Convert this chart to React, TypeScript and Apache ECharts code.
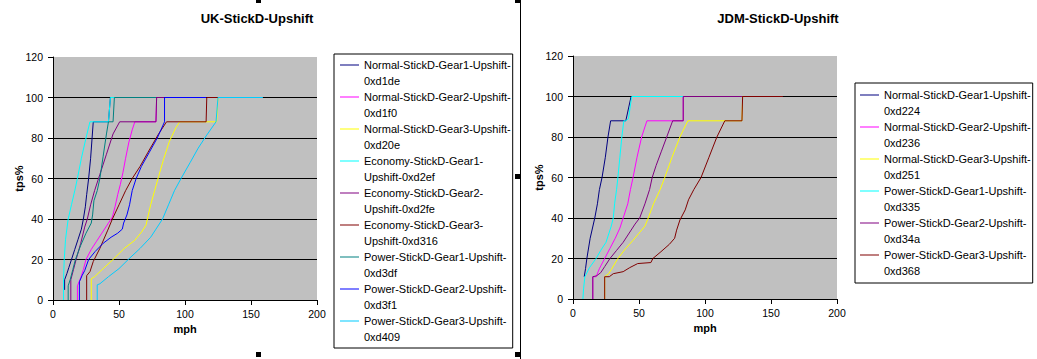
import React, { useEffect, useRef } from 'react';
import * as echarts from 'echarts';

const FONT = '"Liberation Sans", Arial, Helvetica, sans-serif';

// ---- axis ticks ----
const xMin = 0, xMax = 200, xStep = 50;
const yMin = 0, yMax = 120, yStep = 20;

// ---- UK-StickD-Upshift series names ----
const ukNames = [
  'Normal-StickD-Gear1-Upshift-0xd1de',
  'Normal-StickD-Gear2-Upshift-0xd1f0',
  'Normal-StickD-Gear3-Upshift-0xd20e',
  'Economy-StickD-Gear1-Upshift-0xd2ef',
  'Economy-StickD-Gear2-Upshift-0xd2fe',
  'Economy-StickD-Gear3-Upshift-0xd316',
  'Power-StickD-Gear1-Upshift-0xd3df',
  'Power-StickD-Gear2-Upshift-0xd3f1',
  'Power-StickD-Gear3-Upshift-0xd409',
];
const ukColors = ['#000080', '#FF00FF', '#FFFF00', '#00FFFF', '#800080', '#800000', '#008080', '#0000FF', '#00CCFF'];

// [mph, tps%]
const ukNormalG1 = [[8.8,5],[8.8,10],[10.5,13],[12,16],[14,20],[16.5,25],[19,30],[21.5,35],[23,40],[24.5,46],[25.5,52],[27,60],[28.5,70],[29.5,79],[30.5,88],[42,88],[43.5,100]];
const ukNormalG2 = [[18.5,0],[18.5,7],[21,11],[23,15],[25,20],[29,25],[33,29],[37,33],[41,37],[45,41],[47,46],[49,52],[51,57],[53,63],[55,70],[57.5,78],[60,84],[62,88],[78,88],[78.5,100]];
const ukNormalG3 = [[29,0],[29,10.5],[31.5,11.5],[38,15.5],[45.5,20],[54,25.5],[62,29.5],[67,33.5],[70.5,37],[71.5,40],[74,47],[77,54],[80,61],[84,70],[88,78],[93,85],[96,88],[124,88],[125,100]];
const ukEconomyG1 = [[8,0],[8,10],[8.5,20],[9.5,30],[11.5,40],[14,47],[16.5,54],[18.5,60],[21.5,70],[25,80],[28,88],[42,88],[43.5,100],[78,100]];
const ukEconomyG2 = [[13.5,0],[13.5,10],[15.5,15],[17.5,20],[21,28],[24,36],[26,40],[28.5,47],[31.5,54],[35.5,62],[40.5,72],[45.5,82],[50.5,88],[78,88],[78.5,100],[84.5,100]];
const ukEconomyG3 = [[25.5,0],[25.5,12],[28,14],[30.5,19],[35.5,25.5],[41.5,34.5],[45,40],[50,47],[55,54],[60,60],[66,66],[72,73],[80,82],[86,88],[116,88],[116.5,100],[125,100]];
const ukPowerG1 = [[11.5,0],[11.5,7],[13,10],[15,15],[17,20],[21,27],[25,33],[29,38],[30,42],[31,49],[33.5,54],[35.5,60],[38,71],[40.5,82],[42,88],[45.5,88],[46.5,100],[78,100]];
const ukPowerG2 = [[20,0],[20,9],[22,12],[24,14.5],[27,20],[32,24],[38,28],[44,31],[49,33],[52.5,35],[53.5,38],[56,42],[58,47],[60,54],[63,60],[67,66],[73,73],[79,80],[84.5,88],[84.5,100],[116,100]];
const ukPowerG3 = [[33.5,0],[33.5,7.5],[35.5,8],[42,11.5],[50,15.5],[57,20],[66,25.5],[74,31],[78,35],[81,38],[83,40],[87.5,47],[92,54],[97,60],[104,68],[110,75],[116,81],[123.5,88],[125,100],[159,100]];
const ukData = [ukNormalG1, ukNormalG2, ukNormalG3, ukEconomyG1, ukEconomyG2, ukEconomyG3, ukPowerG1, ukPowerG2, ukPowerG3];

// ---- JDM-StickD-Upshift ----
const jdmNames = [
  'Normal-StickD-Gear1-Upshift-0xd224',
  'Normal-StickD-Gear2-Upshift-0xd236',
  'Normal-StickD-Gear3-Upshift-0xd251',
  'Power-StickD-Gear1-Upshift-0xd335',
  'Power-StickD-Gear2-Upshift-0xd34a',
  'Power-StickD-Gear3-Upshift-0xd368',
];
const jdmColors = ['#000080', '#FF00FF', '#FFFF00', '#00FFFF', '#800080', '#800000'];

const jdmNormalG1 = [[8.5,11],[9.5,15],[10.5,20],[13,30],[16.5,40],[18.5,47],[20,54],[22,60],[24.5,70],[26.5,80],[28.5,88],[40,88],[44,100]];
const jdmNormalG2 = [[15,0],[15,11],[17.5,11],[20,15],[24,20],[28,25],[32,30],[35.5,35],[38,40],[41.5,47],[43.5,54],[45.5,60],[48.5,70],[52,80],[56,88],[83.5,88],[83.5,100],[128,100]];
const jdmNormalG3 = [[24,0],[24,11],[27,12.5],[29,14.5],[34,20],[40,25],[45.5,29],[50,32.5],[54.5,36],[57,40],[61,47],[66,54],[69.5,60],[75,70],[81,80],[87,88],[128,88],[128.5,100]];
const jdmPowerG1 = [[7.5,0],[8,5],[9,11],[12.5,15.5],[17.5,20],[21,24],[25,28],[29,36],[30.5,40],[31.5,47],[33,54],[34,60],[35.5,70],[37,80],[38.5,88],[40,88],[42,89],[44.5,100],[83.5,100]];
const jdmPowerG2 = [[15,0],[15,11],[18,11.5],[21,13],[24,16],[28,20],[33,24],[38,28],[44,34],[47,37],[50.5,40],[54.5,47],[58,54],[60,60],[63,66],[67,73],[71,80],[75.5,88],[83.5,88],[83.5,100],[128,100]];
const jdmPowerG3 = [[24,0],[24,11],[27.5,11],[30.5,12.5],[38,13.5],[43,15.5],[49,17.5],[59,18],[60.5,20],[66,23],[73,27],[77,30],[78.5,34],[81,39],[85,44],[87.5,49],[91.5,54],[97,60],[103,70],[109,80],[115,88],[128,88],[128.5,100],[159,100]];
const jdmData = [jdmNormalG1, jdmNormalG2, jdmNormalG3, jdmPowerG1, jdmPowerG2, jdmPowerG3];

const wrapName = (n: string) => {
  if (n.startsWith('Economy')) {
    const i = n.indexOf('Upshift');
    return n.slice(0, i) + '\n' + n.slice(i);
  }
  const j = n.indexOf('Upshift-') + 8;
  return n.slice(0, j) + '\n' + n.slice(j);
};

const LEGEND_ICON = 'path://M0,0h0.01v0.01h-0.01zM0,7.5h19v1h-19zM18.99,31.99h0.01v0.01h-0.01z';

const makeX = (gridIndex: number) => ({
  gridIndex, type: 'value', min: xMin, max: xMax, interval: xStep,
  name: 'mph', nameLocation: 'middle', nameGap: 23, nameMoveOverlap: false,
  nameTextStyle: { fontWeight: 'bold', fontSize: 11, fontFamily: FONT, color: '#000' },
  axisLine: { show: true, onZero: false, lineStyle: { color: '#000', width: 1 } },
  axisTick: { show: true, length: 5, lineStyle: { color: '#000' } },
  axisLabel: { color: '#000', fontSize: 10.5, fontFamily: FONT, margin: 8 },
  splitLine: { show: false },
});

const makeY = (gridIndex: number) => ({
  gridIndex, type: 'value', min: yMin, max: yMax, interval: yStep,
  name: 'tps%', nameLocation: 'middle', nameGap: 29, nameMoveOverlap: false,
  nameTextStyle: { fontWeight: 'bold', fontSize: 11, fontFamily: FONT, color: '#000' },
  axisLine: { show: true, lineStyle: { color: '#000', width: 1 } },
  axisTick: { show: true, length: 5, lineStyle: { color: '#000' } },
  axisLabel: { color: '#000', fontSize: 10.5, fontFamily: FONT, margin: 10 },
  splitLine: { show: true, showMaxLine: false, lineStyle: { color: '#000', width: 1 } },
});

const makeLegend = (names: string[], left: number, top: number, padding: number[]) => ({
  data: names, orient: 'vertical', left, top, itemGap: 0, itemWidth: 19, itemHeight: 32,
  icon: LEGEND_ICON, padding, backgroundColor: '#fff', borderColor: '#000', borderWidth: 1,
  selectedMode: false, itemStyle: { borderWidth: 0 },
  textStyle: { fontSize: 11, lineHeight: 16, fontFamily: FONT, color: '#000' },
  formatter: wrapName,
});

export default function App() {
  const ref = useRef<HTMLDivElement>(null);
  useEffect(() => {
    if (!ref.current) return;
    const chart = echarts.init(ref.current, undefined, { renderer: 'svg' });
    const series: any[] = [];
    ukNames.forEach((name, i) => series.push({
      type: 'line', name, xAxisIndex: 0, yAxisIndex: 0, data: ukData[i], symbol: 'none', showSymbol: false,
      color: ukColors[i], lineStyle: { width: 1, color: ukColors[i] }, silent: true,
    }));
    jdmNames.forEach((name, i) => series.push({
      type: 'line', name, xAxisIndex: 1, yAxisIndex: 1, data: jdmData[i], symbol: 'none', showSymbol: false,
      color: jdmColors[i], lineStyle: { width: 1, color: jdmColors[i] }, silent: true,
    }));
    const handle = (x: number, y: number, h = 5) => ({ type: 'rect', shape: { x, y, width: 5, height: h }, style: { fill: '#000' }, silent: true });
    chart.setOption({
      animation: false,
      backgroundColor: '#fff',
      title: [
        { text: 'UK-StickD-Upshift', left: 257, top: 12, textAlign: 'center', padding: 0,
          textStyle: { fontSize: 13, fontWeight: 'bold', fontFamily: FONT, color: '#000' } },
        { text: 'JDM-StickD-Upshift', left: 778, top: 12, textAlign: 'center', padding: 0,
          textStyle: { fontSize: 13, fontWeight: 'bold', fontFamily: FONT, color: '#000' } },
      ],
      grid: [
        { left: 53, top: 57, width: 264, height: 243, show: true, backgroundColor: '#c0c0c0', borderWidth: 0 },
        { left: 573, top: 56, width: 264, height: 243, show: true, backgroundColor: '#c0c0c0', borderWidth: 0 },
      ],
      xAxis: [makeX(0), makeX(1)],
      yAxis: [makeY(0), makeY(1)],
      legend: [
        makeLegend(ukNames, 334, 54, [3, 2, 3, 6]),
        makeLegend(jdmNames, 855, 83, [4, 2, 4, 5]),
      ],
      series,
      graphic: [
        { type: 'line', shape: { x1: 520.5, y1: 0, x2: 520.5, y2: 359 }, style: { stroke: '#000', lineWidth: 1 }, silent: true },
        handle(256, 0, 3),
        handle(515, 0, 3),
        handle(515, 174),
        handle(256, 352),
        handle(515, 352),
      ],
    });
    return () => chart.dispose();
  }, []);
  return <div ref={ref} style={{ position: 'absolute', left: 0, top: 0, width: 1037, height: 359, background: '#fff' }} />;
}
